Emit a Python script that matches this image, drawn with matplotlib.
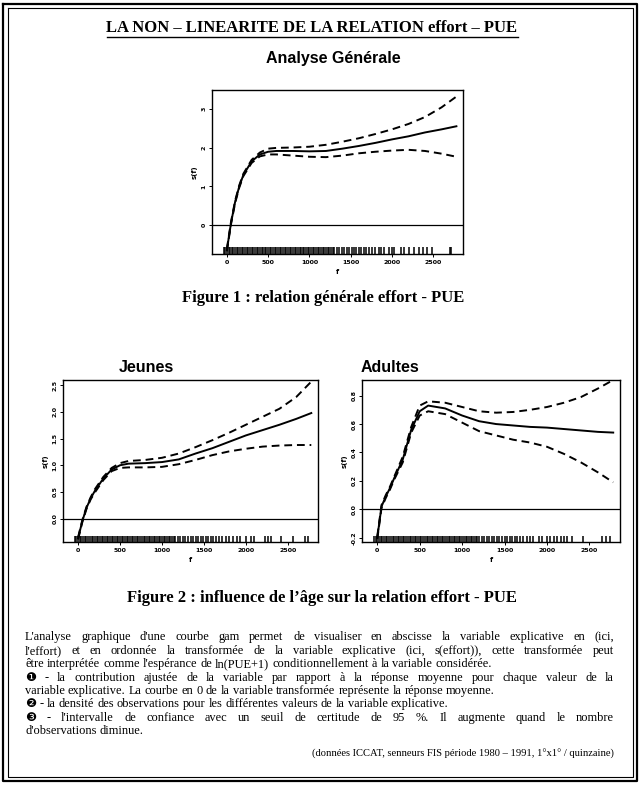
import matplotlib
matplotlib.use("Agg")
import matplotlib.pyplot as plt
from matplotlib.lines import Line2D

W, H = 643, 785

# ---------------- data ----------------
effort = [0, 50, 100, 150, 200, 300, 400, 500, 600, 800, 1000, 1200, 1400,
          1600, 1800, 2000, 2200, 2400, 2600, 2780]

gen_fit = [-0.65, 0.05, 0.60, 1.00, 1.30, 1.65, 1.83, 1.90, 1.92, 1.92, 1.91, 1.92,
           1.98, 2.05, 2.13, 2.22, 2.30, 2.40, 2.48, 2.56]
gen_up = [-0.62, 0.08, 0.63, 1.03, 1.33, 1.69, 1.88, 1.98, 2.00, 2.01, 2.03, 2.08,
          2.16, 2.25, 2.36, 2.48, 2.62, 2.80, 3.05, 3.33]
gen_lo = [-0.68, 0.02, 0.57, 0.97, 1.27, 1.61, 1.78, 1.83, 1.83, 1.80, 1.77, 1.76,
          1.80, 1.86, 1.90, 1.93, 1.95, 1.92, 1.85, 1.77]

jeu_fit = [-0.37, -0.05, 0.20, 0.38, 0.52, 0.75, 0.92, 1.00, 1.03, 1.04, 1.06, 1.11,
           1.22, 1.32, 1.44, 1.56, 1.66, 1.76, 1.87, 1.98]
jeu_up = [-0.35, -0.03, 0.22, 0.40, 0.55, 0.78, 0.95, 1.04, 1.08, 1.10, 1.14, 1.22,
          1.34, 1.47, 1.61, 1.76, 1.91, 2.06, 2.28, 2.57]
jeu_lo = [-0.39, -0.07, 0.18, 0.36, 0.49, 0.72, 0.89, 0.95, 0.96, 0.96, 0.97, 1.02,
          1.10, 1.19, 1.26, 1.31, 1.35, 1.37, 1.38, 1.38]

adu_fit = [-0.20, 0.02, 0.09, 0.15, 0.22, 0.35, 0.56, 0.69, 0.73, 0.71, 0.66, 0.62,
           0.60, 0.59, 0.58, 0.575, 0.565, 0.555, 0.545, 0.54]
adu_up = [-0.19, 0.03, 0.10, 0.16, 0.23, 0.37, 0.58, 0.73, 0.76, 0.75, 0.72, 0.69,
          0.68, 0.685, 0.70, 0.72, 0.75, 0.79, 0.85, 0.91]
adu_lo = [-0.21, 0.01, 0.08, 0.14, 0.21, 0.33, 0.54, 0.66, 0.69, 0.67, 0.61, 0.55,
          0.52, 0.49, 0.47, 0.44, 0.39, 0.33, 0.26, 0.19]

rug_gen = [-40, -20, 0, 20, 40, 60, 80, 100, 120, 140, 160, 180, 200, 220, 240, 260,
           280, 300, 320, 340, 360, 380, 400, 420, 440, 460, 480, 500, 520, 540, 560,
           580, 600, 620, 640, 660, 680, 700, 720, 740, 760, 780, 800, 820, 840, 860,
           880, 900, 920, 940, 960, 980, 1000, 1020, 1040, 1060, 1080, 1100, 1120,
           1140, 1160, 1180, 1200, 1220, 1240, 1260, 1280, 1300, 1330, 1360, 1390,
           1420, 1450, 1480, 1510, 1540, 1570, 1600, 1630, 1660, 1690, 1720, 1760,
           1800, 1840, 1870, 1900, 1960, 2000, 2030, 2110, 2150, 2200, 2270, 2330,
           2380, 2420, 2480, 2700, 2720]
rug_jeu = [-40, -20, 0, 20, 40, 60, 80, 100, 120, 140, 160, 180, 200, 220, 240, 260,
           280, 300, 320, 340, 360, 380, 400, 420, 440, 460, 480, 500, 520, 540, 560,
           580, 600, 620, 640, 660, 680, 700, 720, 740, 760, 780, 800, 820, 840, 860,
           880, 900, 920, 940, 960, 980, 1000, 1020, 1040, 1060, 1080, 1100, 1120,
           1140, 1160, 1190, 1220, 1250, 1280, 1310, 1340, 1370, 1400, 1430, 1460,
           1490, 1520, 1550, 1580, 1610, 1640, 1680, 1720, 1760, 1800, 1850, 1900,
           1930, 2000, 2060, 2100, 2230, 2260, 2300, 2420, 2560, 2700, 2740]
rug_adu = [-40, -20, 0, 20, 40, 60, 80, 100, 120, 140, 160, 180, 200, 220, 240, 260,
           280, 300, 320, 340, 360, 380, 400, 420, 440, 460, 480, 500, 520, 540, 560,
           580, 600, 620, 640, 660, 680, 700, 720, 740, 760, 780, 800, 820, 840, 860,
           880, 900, 920, 940, 960, 980, 1000, 1020, 1040, 1060, 1080, 1100, 1120,
           1140, 1160, 1180, 1200, 1230, 1260, 1290, 1320, 1350, 1380, 1410, 1440,
           1470, 1500, 1530, 1560, 1590, 1620, 1650, 1680, 1720, 1760, 1800, 1840,
           1900, 1940, 2000, 2040, 2080, 2120, 2160, 2200, 2240, 2300, 2420, 2650,
           2700, 2740]

x_ticks = [0, 500, 1000, 1500, 2000, 2500]
gen_yticks = [0, 1, 2, 3]
jeu_yticks = [0.0, 0.5, 1.0, 1.5, 2.0, 2.5]
adu_yticks = [-0.2, 0.0, 0.2, 0.4, 0.6, 0.8]

title = "LA NON – LINEARITE DE LA RELATION effort – PUE"
sub_title = "Analyse Générale"
fig1_caption = "Figure 1 : relation générale effort - PUE"
fig2_caption = "Figure 2 : influence de l’âge sur la relation effort - PUE"
panel_titles = ["Jeunes", "Adultes"]

body_lines = [
    ("L'analyse graphique d'une courbe gam permet de visualiser en abscisse la variable explicative en (ici,", True),
    ("l'effort) et en ordonnée la transformée de la variable explicative (ici, s(effort)), cette transformée peut", True),
    ("être interprétée comme l'espérance de ln(PUE+1) conditionnellement à la variable considérée.", False),
    ("❶ - la contribution ajustée de la variable par rapport à la réponse moyenne pour chaque valeur de la", True),
    ("variable explicative. La courbe en 0 de la variable transformée représente la réponse moyenne.", False),
    ("❷ - la densité des observations pour les différentes valeurs de la variable explicative.", False),
    ("❸ - l'intervalle de confiance avec un seuil de certitude de 95 %. Il augmente quand le nombre", True),
    ("d'observations diminue.", False),
]
source_line = "(données ICCAT, senneurs FIS période 1980 – 1991, 1°x1° / quinzaine)"

# ---------------- figure ----------------
fig = plt.figure(figsize=(W / 100, H / 100), dpi=100)
fig.patch.set_facecolor("white")


def fx(px):
    return px / W


def fy(py):
    return 1 - py / H


def add_axes_px(x0, y0, x1, y1):
    return fig.add_axes([fx(x0), fy(y1), fx(x1) - fx(x0), (y1 - y0) / H])


# page frame (double line)
for (a, b, c, d, lw) in [(3, 4, 637, 781, 1.6), (8, 8, 633, 777, 0.8)]:
    fig.add_artist(Line2D([fx(a), fx(c), fx(c), fx(a), fx(a)],
                          [fy(b), fy(b), fy(d), fy(d), fy(b)],
                          color="black", lw=lw, transform=fig.transFigure))

serif = ["Liberation Serif", "DejaVu Serif"]
sans = ["Liberation Sans", "DejaVu Sans"]

t = fig.text(fx(312), fy(28), title, ha="center", va="center", fontsize=12,
             fontweight="bold", family=serif)
fig.canvas.draw()
r = fig.canvas.get_renderer()
bb = t.get_window_extent(r)
fig.add_artist(Line2D([bb.x0 / W, bb.x1 / W], [fy(37), fy(37)], color="black",
                      lw=1.0, transform=fig.transFigure))

fig.text(fx(333), fy(58), sub_title, ha="center", va="center", fontsize=11.5,
         fontweight="bold", family=sans)


def draw_panel(ax, fit, up, lo, rug, yticks, ylim, xlim=(-180, 2860)):
    ax.plot(effort, fit, color="black", lw=1.4)
    ax.plot(effort, up, color="black", lw=1.4, ls=(0, (4, 2.5)))
    ax.plot(effort, lo, color="black", lw=1.4, ls=(0, (4, 2.5)))
    ax.axhline(0, color="black", lw=0.9)
    ax.vlines(rug, 0, 0.04, transform=ax.get_xaxis_transform(), color="black", lw=1.1)
    ax.set_xlim(*xlim)
    ax.set_ylim(*ylim)
    ax.set_xticks(x_ticks)
    ax.set_xticklabels([str(v) for v in x_ticks], fontsize=4.5, fontweight="bold")
    ax.set_yticks(yticks)
    ax.set_yticklabels([("%g" % v) if isinstance(v, int) else ("%.1f" % v) for v in yticks],
                       fontsize=4.5, fontweight="bold", rotation=90, va="center")
    ax.tick_params(length=2, width=0.7, pad=2)
    for s in ax.spines.values():
        s.set_linewidth(1.0)
    ax.set_xlabel("f", fontsize=5, fontweight="bold", labelpad=3)
    ax.set_ylabel("s(f)", fontsize=5, fontweight="bold", labelpad=3)


ax1 = add_axes_px(212, 90, 463, 254)
draw_panel(ax1, gen_fit, gen_up, gen_lo, rug_gen, gen_yticks, (-0.75, 3.5))

fig.text(fx(323), fy(298), fig1_caption, ha="center", va="center", fontsize=12,
         fontweight="bold", family=serif)

ax2 = add_axes_px(63, 380, 318, 542)
draw_panel(ax2, jeu_fit, jeu_up, jeu_lo, rug_jeu, jeu_yticks, (-0.44, 2.6))
ax3 = add_axes_px(362, 380, 620, 542)
draw_panel(ax3, adu_fit, adu_up, adu_lo, rug_adu, adu_yticks, (-0.23, 0.91))

fig.text(fx(146), fy(367), panel_titles[0], ha="center", va="center", fontsize=11.5,
         fontweight="bold", family=sans)
fig.text(fx(390), fy(367), panel_titles[1], ha="center", va="center", fontsize=11.5,
         fontweight="bold", family=sans)

fig.text(fx(322), fy(598), fig2_caption, ha="center", va="center", fontsize=12,
         fontweight="bold", family=serif)

# body text, justified, baseline-aligned words
X0, X1 = 25, 614
body_family = ["Liberation Serif", "DejaVu Sans"]
body_fs = 8.9
line_base = [640, 654, 667, 681, 694, 707, 721, 734]
fig.canvas.draw()
r = fig.canvas.get_renderer()
tmp = fig.text(0, 0, "a a", fontsize=body_fs, family=body_family)
tmp2 = fig.text(0, 0, "aa", fontsize=body_fs, family=body_family)
space_w = tmp.get_window_extent(r).width - tmp2.get_window_extent(r).width
tmp.remove()
tmp2.remove()
for (line, just), yy in zip(body_lines, line_base):
    words = line.split(" ")
    objs = [fig.text(0, fy(yy), w_, ha="left", va="baseline", fontsize=body_fs,
                     family=body_family) for w_ in words]
    fig.canvas.draw()
    r = fig.canvas.get_renderer()
    widths = [o.get_window_extent(r).width for o in objs]
    total = sum(widths)
    if just and len(words) > 1:
        gap = (X1 - X0 - total) / (len(words) - 1)
    else:
        gap = space_w
    x = X0
    for o, wd in zip(objs, widths):
        o.set_x(fx(x))
        x += wd + gap

fig.text(fx(614), fy(757), source_line, ha="right", va="baseline", fontsize=7.6,
         family=body_family)

fig.savefig("out.png", dpi=100, facecolor="white")
